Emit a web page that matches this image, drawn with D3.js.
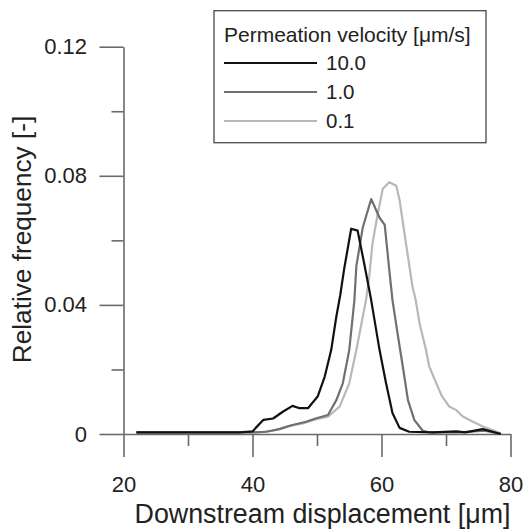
<!DOCTYPE html>
<html>
<head>
<meta charset="utf-8">
<script src="https://cdn.jsdelivr.net/npm/d3@7"></script>
<style>
    html, body { margin: 0; padding: 0; background: #fff; }
    svg { display: block; font-family: 'Liberation Sans', Arial, sans-serif; }
</style>
</head>
<body>
<div id="chart"></div>
<script>
// displacement [um] and relative frequency for each permeation velocity
const x10 = [22, 30, 38, 40, 40.5, 41.7, 43.2, 44.7, 46.2, 47.3, 48.6, 50.1, 51.2, 52.2, 53, 53.6, 54.2, 55.3, 56.3, 57.3, 58.4, 59.7, 60.7, 61.7, 62.8, 64.3, 68, 71.6, 73, 75.7, 78.5]
const y10 = [0.0005, 0.0005, 0.0005, 0.0008, 0.0019, 0.0044, 0.0048, 0.0069, 0.0087, 0.008, 0.008, 0.0116, 0.0178, 0.026, 0.0364, 0.043, 0.051, 0.0636, 0.063, 0.053, 0.0415, 0.026, 0.0158, 0.0065, 0.0019, 0.0007, 0.0005, 0.0008, 0.0005, 0.0015, 0]

const x1 = [22, 35, 40, 42.1, 44.2, 46.2, 48.3, 49.9, 51.7, 53, 54, 55, 55.8, 56.1, 57.1, 58.4, 59.7, 60.5, 61.2, 61.7, 62.5, 63.3, 64.1, 65.1, 66.4, 67.4, 72, 76, 78.5]
const y1 = [0.0005, 0.0005, 0.0005, 0.0007, 0.0015, 0.0028, 0.0038, 0.0049, 0.0059, 0.0105, 0.0157, 0.026, 0.0415, 0.052, 0.064, 0.0728, 0.067, 0.0648, 0.051, 0.0415, 0.031, 0.0209, 0.0105, 0.0043, 0.001, 0.0005, 0.0005, 0.001, 0]

const x01 = [22, 35, 41.1, 43.1, 45.7, 47.8, 49.9, 51.7, 53.5, 55, 56.1, 57.6, 58.1, 58.6, 59.4, 60.2, 61.2, 62.3, 62.8, 63.8, 64.8, 65.3, 65.9, 66.9, 67.4, 68.5, 69.3, 70.5, 71.6, 72.6, 74.2, 75.7, 77.2, 78.5]
const y01 = [0.0005, 0.0005, 0.0005, 0.001, 0.0025, 0.0033, 0.0046, 0.0054, 0.0085, 0.0157, 0.026, 0.0415, 0.0488, 0.059, 0.068, 0.076, 0.078, 0.0769, 0.0725, 0.059, 0.0457, 0.0415, 0.0343, 0.026, 0.0209, 0.0157, 0.012, 0.0085, 0.0074, 0.0054, 0.0038, 0.0023, 0.0012, 0.0002]

const seriesNames = ['10.0', '1.0', '0.1']
const seriesColors = ['#111111', '#707070', '#b8b8b8']

const xMajor = [20, 40, 60, 80]
const xMinor = [30, 50, 70]
const yMajor = [0, 0.04, 0.08, 0.12]
const yMinor = [0.02, 0.06, 0.1]
const yTickLabels = ['0', '0.04', '0.08', '0.12']

const series = [
    { name: seriesNames[0], xs: x10, ys: y10 },
    { name: seriesNames[1], xs: x1, ys: y1 },
    { name: seriesNames[2], xs: x01, ys: y01 },
].map((s, i) => ({
    name: s.name,
    color: seriesColors[i],
    points: s.xs.map((v, j) => ({ x: v, y: s.ys[j] })),
}))

const width = 525
const height = 529
const axisColor = '#6a6a6a'
const textColor = '#222'

// scales
const x = d3.scaleLinear().domain([20, 80]).range([123.5, 510.5])
const y = d3.scaleLinear().domain([0, 0.12]).range([434, 46.7])

const svg = d3
    .select('#chart')
    .append('svg')
    .attr('width', width)
    .attr('height', height)

// x axis: major ticks long, minor short, pointing down
const xAxisG = svg.append('g').attr('transform', `translate(0,${y(0)})`)
xAxisG
    .call(d3.axisBottom(x).tickValues(xMajor).tickSize(23).tickSizeOuter(0).tickFormat(d3.format('d')))
    .call((g) => g.select('.domain').attr('stroke', axisColor).attr('stroke-width', 1.6))
    .call((g) => g.selectAll('.tick line').attr('stroke', axisColor).attr('stroke-width', 1.6))
    .call((g) =>
        g.selectAll('.tick text')
            .attr('y', 57.7)
            .attr('dy', null)
            .attr('fill', textColor)
            .style('font-size', '22px')
    )
xAxisG
    .append('g')
    .call(d3.axisBottom(x).tickValues(xMinor).tickSize(12).tickFormat(''))
    .call((g) => g.select('.domain').remove())
    .call((g) => g.selectAll('.tick line').attr('stroke', axisColor).attr('stroke-width', 1.6))

// y axis: ticks pointing left
const yAxisG = svg.append('g').attr('transform', `translate(${x(20)},0)`)
yAxisG
    .call(d3.axisLeft(y).tickValues(yMajor).tickSize(24).tickSizeOuter(0).tickFormat((d, i) => yTickLabels[i]))
    .call((g) => g.select('.domain').attr('stroke', axisColor).attr('stroke-width', 1.6))
    .call((g) => g.selectAll('.tick line').attr('stroke', axisColor).attr('stroke-width', 1.6))
    .call((g) =>
        g.selectAll('.tick text')
            .attr('x', -36.5)
            .attr('fill', textColor)
            .style('font-size', '22px')
    )
yAxisG
    .append('g')
    .call(d3.axisLeft(y).tickValues(yMinor).tickSize(12).tickFormat(''))
    .call((g) => g.select('.domain').remove())
    .call((g) => g.selectAll('.tick line').attr('stroke', axisColor).attr('stroke-width', 1.6))

// axis titles
svg.append('text')
    .attr('x', 322.5)
    .attr('y', 523)
    .attr('text-anchor', 'middle')
    .attr('fill', textColor)
    .style('font-size', '26.8px')
    .text('Downstream displacement [μm]')

svg.append('text')
    .attr('transform', 'translate(31,239.5) rotate(-90)')
    .attr('text-anchor', 'middle')
    .attr('fill', textColor)
    .style('font-size', '26.2px')
    .text('Relative frequency [-]')

// lines, lightest drawn first
const line = d3.line().x((d) => x(d.x)).y((d) => y(d.y))

svg.append('g')
    .selectAll('path')
    .data(series.slice().reverse())
    .join('path')
    .attr('fill', 'none')
    .attr('stroke', (d) => d.color)
    .attr('stroke-width', 2.2)
    .attr('stroke-linejoin', 'round')
    .attr('d', (d) => line(d.points))

// legend
const legend = svg.append('g')
legend.append('rect')
    .attr('x', 214)
    .attr('y', 10.7)
    .attr('width', 272)
    .attr('height', 132)
    .attr('fill', '#fff')
    .attr('stroke', '#555')
    .attr('stroke-width', 1.4)

legend.append('text')
    .attr('x', 224)
    .attr('y', 41.7)
    .attr('fill', textColor)
    .style('font-size', '21px')
    .text('Permeation velocity [μm/s]')

const items = legend
    .selectAll('g.item')
    .data(series)
    .join('g')
    .attr('class', 'item')
    .attr('transform', (d, i) => `translate(0,${63 + i * 29})`)

items.append('line')
    .attr('x1', 224)
    .attr('x2', 317)
    .attr('stroke', (d) => d.color)
    .attr('stroke-width', 2.2)

items.append('text')
    .attr('x', 326)
    .attr('dy', '0.36em')
    .attr('fill', textColor)
    .style('font-size', '20.5px')
    .text((d) => d.name)
</script>
</body>
</html>
